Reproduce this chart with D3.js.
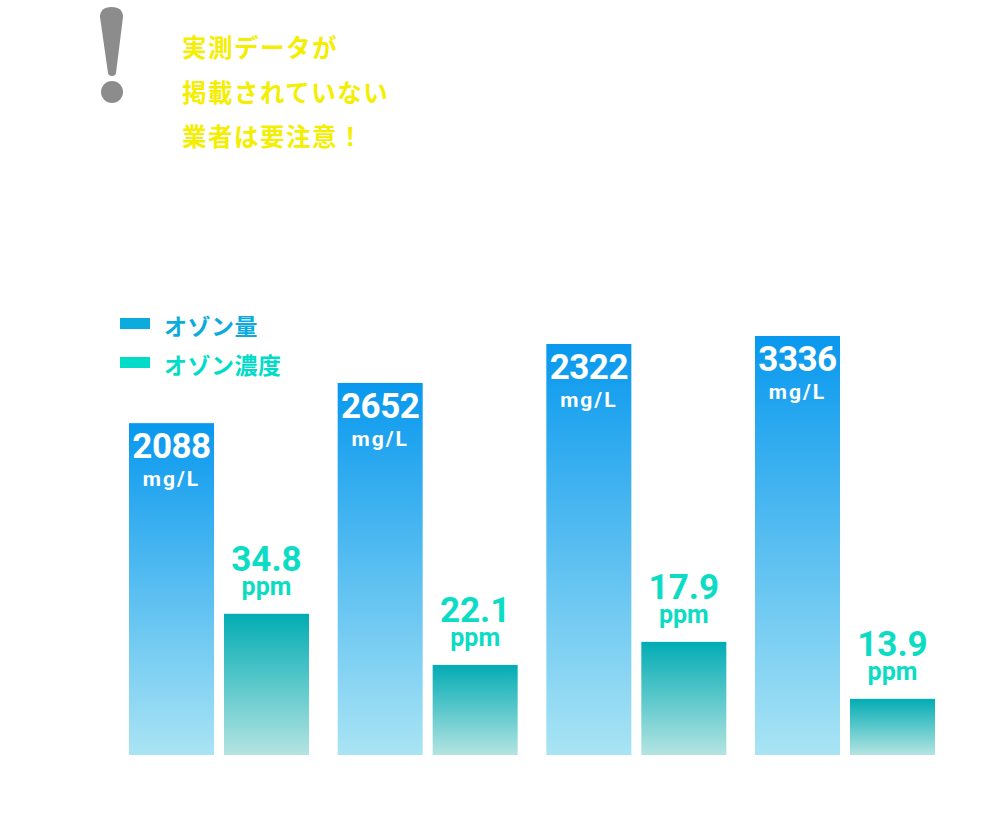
<!DOCTYPE html>
<html>
<head>
<meta charset="utf-8">
<script src="https://cdn.jsdelivr.net/npm/d3@7"></script>
<style>
  html, body { margin: 0; padding: 0; background: #fff; }
  svg text { font-family: Roboto, "Noto Sans CJK JP", sans-serif; }
</style>
</head>
<body>
<div id="chart"></div>
<script>
// Data
const groups = ["A", "B", "C", "D"];
const ozoneAmount = [2088, 2652, 2322, 3336];          // mg/L
const ozoneConcentration = [34.8, 22.1, 17.9, 13.9];   // ppm
// drawn bar heights are not proportional to the values, so keep them as read (percent of tallest)
const amountLevel = [79.2, 88.8, 98.1, 100];
const concentrationLevel = [33.7, 21.5, 27.0, 13.4];
const seriesNames = ["オゾン量", "オゾン濃度"];
const warningLines = ["実測データが", "掲載されていない", "業者は要注意！"];

const width = 1000;
const height = 820;

const svg = d3.select("#chart").append("svg")
  .attr("width", width)
  .attr("height", height);

const defs = svg.append("defs");

// gradients for bars
const gBlue = defs.append("linearGradient").attr("id", "gradBlue")
  .attr("x1", 0).attr("y1", 0).attr("x2", 0).attr("y2", 1);
gBlue.append("stop").attr("offset", "0%").attr("stop-color", "#0898ee");
gBlue.append("stop").attr("offset", "100%").attr("stop-color", "#a9e4f4");

const gTeal = defs.append("linearGradient").attr("id", "gradTeal")
  .attr("x1", 0).attr("y1", 0).attr("x2", 0).attr("y2", 1);
gTeal.append("stop").attr("offset", "0%").attr("stop-color", "#02acb4");
gTeal.append("stop").attr("offset", "100%").attr("stop-color", "#b4e4e2");

// scales
const x0 = d3.scaleBand()
  .domain(groups)
  .range([129, 935])
  .paddingInner(0.1374)
  .paddingOuter(0);

const x1 = d3.scaleBand()
  .domain(["amount", "conc"])
  .range([0, x0.bandwidth()])
  .paddingInner(0.105);

const y = d3.scaleLinear()
  .domain([0, 100])
  .range([755, 336]);

// warning mark (exclamation)
svg.append("path")
  .attr("d", "M100,17 Q100,7 111.5,7 Q123,7 123,17 L116,73 Q115.5,76 112,76 Q108.5,76 108,73 Z")
  .attr("fill", "#8c8c8c");
svg.append("circle")
  .attr("cx", 112).attr("cy", 92).attr("r", 11)
  .attr("fill", "#8c8c8c");

svg.selectAll(".warn")
  .data(warningLines)
  .enter()
  .append("text")
  .attr("class", "warn")
  .attr("x", 182)
  .attr("y", (d, i) => 57 + i * 44.5)
  .attr("fill", "#f4ee00")
  .attr("font-family", "'Noto Sans CJK JP', sans-serif")
  .attr("font-weight", 700)
  .attr("font-size", 24.5)
  .attr("letter-spacing", 1.5)
  .text(d => d);

// legend
const legendColors = ["#0babdd", "#00dcc8"];
seriesNames.forEach((name, i) => {
  svg.append("rect")
    .attr("x", 120)
    .attr("y", 318 + i * 39)
    .attr("width", 30)
    .attr("height", 11)
    .attr("fill", legendColors[i]);
  svg.append("text")
    .attr("x", 164)
    .attr("y", 335 + i * 39)
    .attr("fill", legendColors[i])
    .attr("font-family", "'Noto Sans CJK JP', sans-serif")
    .attr("font-weight", 700)
    .attr("font-size", 23)
    .attr("letter-spacing", 0.5)
    .text(name);
});

// bars
const barGroups = svg.selectAll(".bar-group")
  .data(groups)
  .enter()
  .append("g")
  .attr("class", "bar-group")
  .attr("transform", d => `translate(${x0(d)},0)`);

// blue bars
barGroups.append("rect")
  .attr("x", x1("amount"))
  .attr("y", (d, i) => y(amountLevel[i]))
  .attr("width", x1.bandwidth())
  .attr("height", (d, i) => y(0) - y(amountLevel[i]))
  .attr("fill", "url(#gradBlue)");

barGroups.append("text")
  .attr("x", x1("amount") + x1.bandwidth() / 2)
  .attr("y", (d, i) => y(amountLevel[i]) + 35)
  .attr("text-anchor", "middle")
  .attr("fill", "#fff")
  .attr("font-weight", 700)
  .attr("font-size", 35)
  .attr("letter-spacing", -0.5)
  .text((d, i) => ozoneAmount[i]);

barGroups.append("text")
  .attr("x", x1("amount") + x1.bandwidth() / 2)
  .attr("y", (d, i) => y(amountLevel[i]) + 63)
  .attr("text-anchor", "middle")
  .attr("fill", "#fff")
  .attr("font-weight", 700)
  .attr("font-size", 21)
  .attr("letter-spacing", 2)
  .text("mg/L");

// teal bars
barGroups.append("rect")
  .attr("x", x1("conc"))
  .attr("y", (d, i) => y(concentrationLevel[i]))
  .attr("width", x1.bandwidth())
  .attr("height", (d, i) => y(0) - y(concentrationLevel[i]))
  .attr("fill", "url(#gradTeal)");

barGroups.append("text")
  .attr("x", x1("conc") + x1.bandwidth() / 2)
  .attr("y", (d, i) => y(concentrationLevel[i]) - 43)
  .attr("text-anchor", "middle")
  .attr("fill", "#0cdcc4")
  .attr("font-weight", 700)
  .attr("font-size", 35)
  .text((d, i) => ozoneConcentration[i].toFixed(1));

barGroups.append("text")
  .attr("x", x1("conc") + x1.bandwidth() / 2)
  .attr("y", (d, i) => y(concentrationLevel[i]) - 19)
  .attr("text-anchor", "middle")
  .attr("fill", "#0cdcc4")
  .attr("font-weight", 700)
  .attr("font-size", 25)
  .text("ppm");
</script>
</body>
</html>
